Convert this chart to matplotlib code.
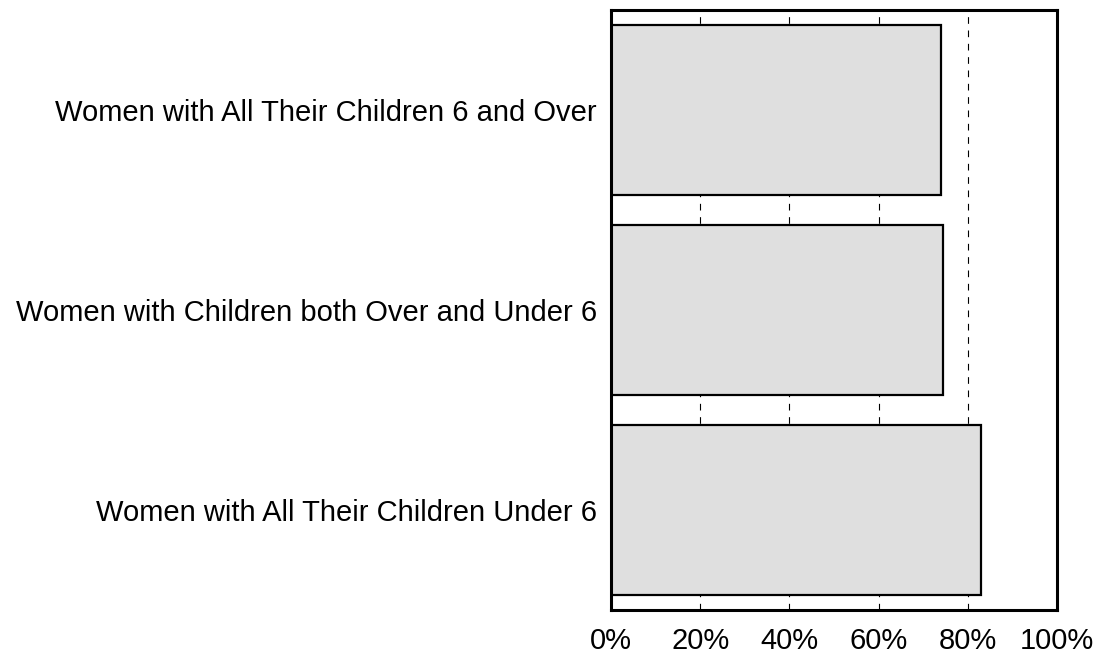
import numpy as np
import matplotlib
matplotlib.use("Agg")
import matplotlib.pyplot as plt

plt.rcParams['font.family'] = ['Liberation Sans', 'DejaVu Sans']

categories = ["Women with All Their Children Under 6",
              "Women with Children both Over and Under 6",
              "Women with All Their Children 6 and Over"]
values = [83.0, 74.4, 74.0]
ticks = [0, 20, 40, 60, 80, 100]
tick_labels = ["0%", "20%", "40%", "60%", "80%", "100%"]

fig = plt.figure(figsize=(11.08, 6.53), dpi=100)
ax = fig.add_axes([611/1108, 43/653, 446/1108, 600/653])

y = np.arange(len(categories))
ax.barh(y, values, height=0.85, color='#dfdfdf', edgecolor='black', linewidth=1.6, zorder=2)

ax.set_xlim(0, 100)
ax.set_ylim(-0.5, 2.5)
ax.set_xticks(ticks)
ax.set_xticklabels(tick_labels, fontsize=21)
ax.set_yticks(y)
ax.set_yticklabels(categories, fontsize=21)
ax.tick_params(length=0, pad=10)
ax.tick_params(axis='x', pad=12)
ax.grid(axis='x', color='black', linestyle=(0, (6, 6)), linewidth=0.8, zorder=0)
ax.set_axisbelow(True)
for s in ax.spines.values():
    s.set_linewidth(2.2)

fig.savefig("out.png", dpi=100)
